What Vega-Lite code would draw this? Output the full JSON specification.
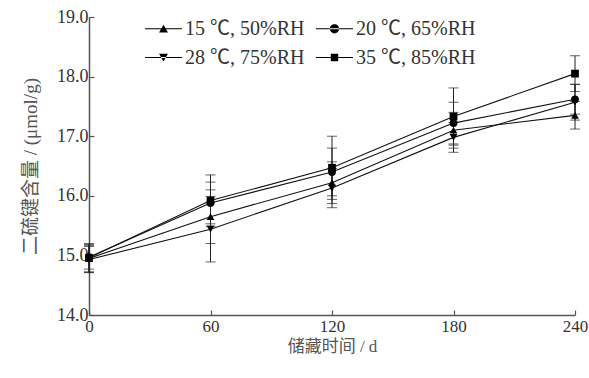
{
  "$schema": "https://vega.github.io/schema/vega-lite/v6.json",
  "width": 486,
  "height": 298,
  "autosize": "none",
  "padding": {"left": 89, "top": 17, "right": 14, "bottom": 63},
  "background": "white",
  "config": {
    "view": {"stroke": null},
    "font": "Liberation Serif, Noto Sans CJK SC",
    "axis": {
      "grid": false,
      "domainColor": "#555",
      "domainWidth": 1.5,
      "tickColor": "#555",
      "tickWidth": 1.2,
      "tickSize": -5,
      "labelFont": "Liberation Serif",
      "labelFontSize": 18,
      "labelColor": "#333",
      "titleFont": "Liberation Serif, Noto Sans CJK SC",
      "titleFontSize": 18,
      "titleFontWeight": "normal",
      "titleColor": "#555"
    }
  },
  "data": {
    "values": [
      {"day": 0, "series": "15 ℃, 50%RH", "value": 14.95, "err": 0.23},
      {"day": 60, "series": "15 ℃, 50%RH", "value": 15.65, "err": 0.45},
      {"day": 120, "series": "15 ℃, 50%RH", "value": 16.22, "err": 0.35},
      {"day": 180, "series": "15 ℃, 50%RH", "value": 17.1, "err": 0.3},
      {"day": 240, "series": "15 ℃, 50%RH", "value": 17.35, "err": 0.23},
      {"day": 0, "series": "20 ℃, 65%RH", "value": 14.97, "err": 0.2},
      {"day": 60, "series": "20 ℃, 65%RH", "value": 15.88, "err": 0.35},
      {"day": 120, "series": "20 ℃, 65%RH", "value": 16.4, "err": 0.4},
      {"day": 180, "series": "20 ℃, 65%RH", "value": 17.22, "err": 0.35},
      {"day": 240, "series": "20 ℃, 65%RH", "value": 17.62, "err": 0.25},
      {"day": 0, "series": "28 ℃, 75%RH", "value": 14.93, "err": 0.22},
      {"day": 60, "series": "28 ℃, 75%RH", "value": 15.44, "err": 0.55},
      {"day": 120, "series": "28 ℃, 75%RH", "value": 16.13, "err": 0.33},
      {"day": 180, "series": "28 ℃, 75%RH", "value": 16.98, "err": 0.25},
      {"day": 240, "series": "28 ℃, 75%RH", "value": 17.57, "err": 0.3},
      {"day": 0, "series": "35 ℃, 85%RH", "value": 14.96, "err": 0.24},
      {"day": 60, "series": "35 ℃, 85%RH", "value": 15.92, "err": 0.43},
      {"day": 120, "series": "35 ℃, 85%RH", "value": 16.47, "err": 0.53},
      {"day": 180, "series": "35 ℃, 85%RH", "value": 17.33, "err": 0.48},
      {"day": 240, "series": "35 ℃, 85%RH", "value": 18.05, "err": 0.3}
    ]
  },
  "encoding": {
    "x": {
      "field": "day",
      "type": "quantitative",
      "scale": {"domain": [0, 240], "nice": false},
      "axis": {"values": [0, 60, 120, 180, 240], "title": "储藏时间 / d", "labelFontSize": 17, "labelPadding": 8, "titlePadding": 4, "titleFontSize": 17, "labelFlush": false}
    },
    "y": {
      "field": "value",
      "type": "quantitative",
      "scale": {"domain": [14, 19], "nice": false, "zero": false},
      "axis": {"values": [14, 15, 16, 17, 18, 19], "format": ".1f", "title": "二硫键含量 / (μmol/g)", "labelPadding": 6, "titlePadding": 16, "titleFontSize": 19}
    }
  },
  "layer": [
    {
      "mark": {"type": "errorbar", "ticks": {"size": 10, "color": "#222"}, "rule": {"color": "#222", "strokeWidth": 1}},
      "encoding": {
        "yError": {"field": "err"},
        "detail": {"field": "series"}
      }
    },
    {
      "mark": {"type": "line", "color": "#111", "strokeWidth": 1.1},
      "encoding": {
        "detail": {"field": "series"}
      }
    },
    {
      "mark": {"type": "point", "filled": true, "color": "#000", "opacity": 1, "size": 60},
      "encoding": {
        "shape": {
          "field": "series",
          "type": "nominal",
          "scale": {"range": ["triangle-up", "circle", "triangle-down", "square"]},
          "legend": null
        }
      }
    },
    {
      "mark": {"type": "point", "filled": true, "color": "#000", "opacity": 0, "size": 10},
      "encoding": {
        "shape": {
          "field": "series",
          "type": "nominal",
          "scale": {"range": [
            "M-1,-0.03H1V0.03H-1Z M-0.24,0.2L0,-0.22L0.24,0.2Z",
            "M-1,-0.03H1V0.03H-1Z M-0.25,0A0.25,0.25,0,1,0,0.25,0A0.25,0.25,0,1,0,-0.25,0Z",
            "M-1,-0.03H1V0.03H-1Z M-0.24,-0.2L0,0.22L0.24,-0.2Z",
            "M-1,-0.03H1V0.03H-1Z M-0.2,-0.2H0.2V0.2H-0.2Z"
          ]},
          "legend": {
            "title": null,
            "orient": "none",
            "legendX": 56,
            "legendY": -7,
            "direction": "horizontal",
            "columns": 2,
            "columnPadding": 11,
            "rowPadding": -28,
            "symbolSize": 1369,
            "symbolOpacity": 1,
            "symbolFillColor": "#000",
            "symbolStrokeColor": "#000",
            "symbolStrokeWidth": 0,
            "labelFont": "Liberation Serif, Noto Sans CJK SC",
            "labelFontSize": 20,
            "labelColor": "#333",
            "labelOffset": 3
          }
        }
      }
    }
  ],
  "resolve": {"scale": {"shape": "independent"}, "legend": {"shape": "independent"}}
}
